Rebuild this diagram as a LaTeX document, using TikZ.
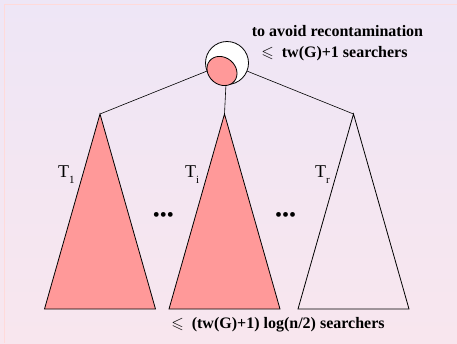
\documentclass[tikz,border=0pt]{standalone}
\usepackage{amssymb}
\usepackage{fontspec}
\setmainfont{Liberation Serif}
\usetikzlibrary{shapes.geometric}
\definecolor{salmon}{RGB}{255,153,153}
\definecolor{bgtop}{RGB}{238,230,246}
\definecolor{bgbot}{RGB}{248,230,238}
\definecolor{framepink}{RGB}{255,218,218}
\newcommand{\sub}[1]{\raisebox{-6pt}{\fontsize{11}{12}\selectfont #1}}

\begin{document}
\begin{tikzpicture}[x=1pt, y=-1pt,
  note/.style={font=\fontsize{16}{18}\selectfont\bfseries\boldmath, inner sep=0pt},
  tlabel/.style={font=\fontsize{18}{20}\selectfont, inner sep=0pt, anchor=base west},
  dots/.style={font=\fontsize{20}{22}\selectfont, inner sep=0pt},
  subtree/.style={draw, line width=0.8pt, line join=miter},
  link/.style={draw, line width=0.6pt}
]
% ---- background -------------------------------------------------------
\shade[top color=bgtop, bottom color=bgbot] (0,0) rectangle (457,343);
\useasboundingbox (0,0) rectangle (457,343);
\draw[framepink, line width=1.3pt] (4.5,343) -- (4.5,4.5) -- (457,4.5);

% ---- subtrees ---------------------------------------------------------
\foreach \n/\x/\fc in {t1/100/salmon, ti/224.5/salmon, tr/353.5/none} {
  \coordinate (\n) at (\x,114);
  \draw[subtree, fill=\fc] (\n) -- ++(-55.5,195) -- ++(111,0) -- cycle;
}
\node[tlabel] (l1) at (58,177) {T\sub{1}};
\node[tlabel] (li) at (185,177) {T\sub{i}};
\node[tlabel] (lr) at (315,177) {T\sub{r}};
\node[dots] (d1) at (163.3,217) {\textbullet\textbullet\textbullet};
\node[dots] (d2) at (285.5,217) {\textbullet\textbullet\textbullet};

% ---- root bag ---------------------------------------------------------
\node[circle, draw, fill=white, minimum size=43pt, inner sep=0pt,
      line width=0.8pt] (root) at (227,63) {};
\node[ellipse, draw, fill=salmon, minimum width=32pt, minimum height=27pt,
      inner sep=0pt, line width=0.8pt, rotate=-40] (core) at (222,71) {};
\foreach \t in {t1,ti,tr} \draw[link] (root) -- (\t);

% ---- notes ------------------------------------------------------------
\node[note] (top1) at (337.5,31) {to avoid recontamination};
\node[note] (top2) at (334.5,54) {$\leqslant$\ \ tw(G)+1 searchers};
\node[note] (bot) at (278,325) {$\leqslant$\ \ (tw(G)+1) log(n/2) searchers};
\end{tikzpicture}
\end{document}
